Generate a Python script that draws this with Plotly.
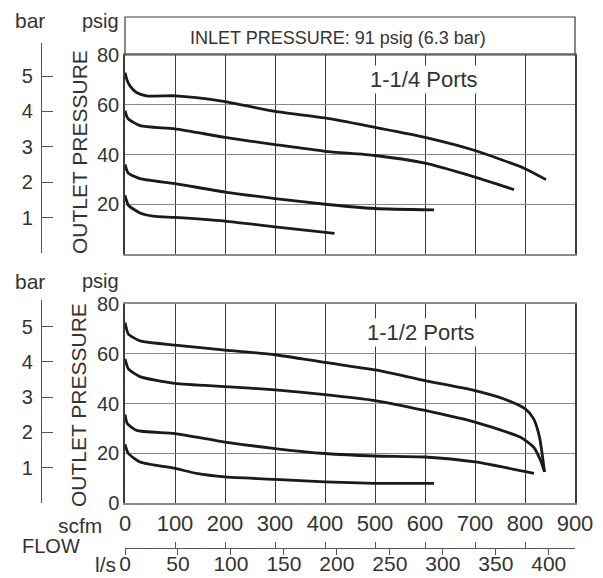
import plotly.graph_objects as go

# ---------------- data (scfm, psig) ----------------
# 1-1/4 Ports (top panel)
t1_x = [0, 4, 10, 23, 43, 100, 143, 200, 300, 400, 500, 600, 700, 800, 842]
t1_y = [72.9, 70.0, 67.6, 64.9, 63.6, 63.6, 62.9, 61.3, 57.3, 54.7, 50.9, 46.9, 41.6, 34.3, 29.9]
t2_x = [0, 3, 6.7, 30, 100, 200, 300, 400, 500, 600, 700, 778]
t2_y = [57.6, 55.6, 54.3, 51.6, 50.3, 46.9, 44.0, 41.3, 39.6, 36.5, 30.9, 25.9]
t3_x = [0, 3, 6.7, 30, 100, 200, 300, 400, 500, 618]
t3_y = [36.0, 34.0, 32.5, 30.3, 28.3, 24.9, 22.3, 20.0, 18.3, 17.7]
t4_x = [0, 3, 6.7, 30, 56.7, 100, 200, 300, 419]
t4_y = [23.6, 21.5, 19.6, 16.5, 15.2, 14.7, 13.2, 10.9, 8.3]

# 1-1/2 Ports (bottom panel)
b1_x = [0, 3, 6.7, 30, 100, 200, 300, 400, 500, 600, 700, 757, 800, 817, 829, 839]
b1_y = [72.5, 70.0, 67.9, 65.2, 63.5, 61.5, 59.6, 56.5, 53.5, 49.2, 45.2, 41.9, 37.9, 33.9, 26.5, 12.5]
b2_x = [0, 3, 6.7, 30, 100, 200, 300, 400, 500, 600, 700, 790, 817, 831, 839]
b2_y = [57.9, 55.8, 53.9, 50.8, 48.1, 46.8, 45.5, 43.6, 41.2, 37.2, 32.5, 26.5, 22.5, 17.2, 12.5]
b3_x = [0, 2, 4.7, 23, 100, 200, 300, 400, 500, 600, 700, 818]
b3_y = [35.6, 33.5, 31.9, 29.2, 27.9, 24.5, 21.9, 19.9, 18.9, 18.5, 16.5, 11.9]
b4_x = [0, 3, 6.7, 30, 100, 143, 200, 300, 400, 500, 618]
b4_y = [23.6, 21.6, 19.9, 16.5, 13.9, 11.9, 10.5, 9.5, 8.5, 7.9, 7.9]

scfm_ticks = [0, 100, 200, 300, 400, 500, 600, 700, 800, 900]
ls_ticks = [0, 50, 100, 150, 200, 250, 300, 350, 400]
psig_ticks_top = [20, 40, 60, 80]
psig_ticks_bot = [0, 20, 40, 60, 80]
bar_ticks = [0, 1, 2, 3, 4, 5]
bar_text = ["", "1", "2", "3", "4", "5"]
SCFM_PER_LS = 2.11888

# the page body adds an 8 px offset; the figure is laid out in window pixels
OFF = 8
W, H = 595, 570
FONT = "Liberation Sans"
TXT = "#333333"

def px(x):
    return (x - OFF) / W

def py(y):
    return (H - (y - OFF)) / H

fig = go.Figure()

line = dict(color="#1a1a1a", width=2.8, shape="spline", smoothing=0.6)
for xs, ys in [(t1_x, t1_y), (t2_x, t2_y), (t3_x, t3_y), (t4_x, t4_y)]:
    fig.add_trace(go.Scatter(x=xs, y=ys, mode="lines", line=line, xaxis="x", yaxis="y",
                             hoverinfo="skip", showlegend=False))
for xs, ys in [(b1_x, b1_y), (b2_x, b2_y), (b3_x, b3_y), (b4_x, b4_y)]:
    fig.add_trace(go.Scatter(x=xs, y=ys, mode="lines", line=line, xaxis="x2", yaxis="y2",
                             hoverinfo="skip", showlegend=False))

# invisible anchor points so the auxiliary scale axes are drawn
inv = dict(mode="markers", marker=dict(opacity=0, size=1), hoverinfo="skip", showlegend=False)
fig.add_trace(go.Scatter(x=[0.5], y=[1], xaxis="x5", yaxis="y3", **inv))
fig.add_trace(go.Scatter(x=[0.5], y=[1], xaxis="x5", yaxis="y4", **inv))
fig.add_trace(go.Scatter(x=[100], y=[0.5], xaxis="x3", yaxis="y5", **inv))
fig.add_trace(go.Scatter(x=[100], y=[0.5], xaxis="x4", yaxis="y6", **inv))

xdom = [px(125), px(575)]
top_dom = [py(254), py(55)]
bot_dom = [py(503), py(304)]
tickfont = dict(family=FONT, size=20, color=TXT)
xtickfont = dict(family=FONT, size=22, color=TXT)
lstickfont = dict(family=FONT, size=21, color=TXT)

common_x = dict(range=[0, 900], domain=xdom, tickvals=scfm_ticks, showgrid=True,
                gridcolor="#3a3a3a", gridwidth=1, showline=True, linecolor="#8a8a8a",
                linewidth=1.5, mirror=True, ticks="", zeroline=False, fixedrange=True,
                automargin=False)
common_y = dict(range=[0, 80], showgrid=True, gridcolor="#888888", gridwidth=1,
                showline=True, linecolor="#3a3a3a", linewidth=1.5, mirror=True, ticks="",
                zeroline=False, tickfont=tickfont, fixedrange=True, automargin=False,
                layer="below traces")
bar_y = dict(side="left", tickvals=bar_ticks, ticktext=bar_text, anchor="x5",
             ticks="inside", ticklen=11, tickcolor="#555", tickwidth=1.2,
             showline=True, linecolor="#555", linewidth=1.2, showgrid=False,
             zeroline=False, tickfont=tickfont, fixedrange=True, automargin=False,
             ticklabelstandoff=4)
hidden = dict(visible=False, fixedrange=True, automargin=False)

fig.update_layout(
    width=W, height=H,
    margin=dict(l=0, r=0, t=0, b=0, autoexpand=False),
    paper_bgcolor="white", plot_bgcolor="rgba(0,0,0,0)",
    font=dict(family=FONT, color=TXT),
    xaxis=dict(common_x, anchor="y", showticklabels=False),
    yaxis=dict(common_y, domain=top_dom, anchor="x", tickvals=psig_ticks_top),
    xaxis2=dict(common_x, anchor="y2", showticklabels=True, tickfont=xtickfont),
    yaxis2=dict(common_y, domain=bot_dom, anchor="x2", tickvals=psig_ticks_bot),
    # bar scales
    yaxis3=dict(bar_y, domain=[py(253), py(43)], range=[0, (253 - 43) / 35.4]),
    yaxis4=dict(bar_y, domain=[py(503), py(300)], range=[0, (503 - 300) / 35.3]),
    xaxis5=dict(hidden, domain=[px(42), px(44)], range=[0, 1], anchor="y3"),
    # l/s flow scale
    yaxis5=dict(hidden, domain=[py(548), py(547)], range=[0, 1], anchor="x3"),
    yaxis6=dict(hidden, domain=[py(548), py(547)], range=[0, 1], anchor="x4"),
    xaxis3=dict(domain=xdom, range=[0, 900 / SCFM_PER_LS], anchor="y5",
                side="bottom", tickvals=ls_ticks, ticks="outside",
                ticklen=6, tickcolor="#555", tickwidth=1.2, showline=True,
                linecolor="#555", linewidth=1.2, showgrid=False, zeroline=False,
                tickfont=lstickfont, fixedrange=True, automargin=False,
                ticklabelstandoff=-9),
    # scfm tick marks on the l/s line
    xaxis4=dict(domain=xdom, range=[0, 900], anchor="y6",
                side="bottom", tickvals=scfm_ticks, ticks="inside",
                ticklen=6, tickcolor="#555", tickwidth=1.2, showline=False,
                showgrid=False, zeroline=False, showticklabels=False, fixedrange=True,
                automargin=False),
)

# title strip above top panel
fig.add_shape(type="rect", xref="paper", yref="paper", x0=px(125), x1=px(575),
              y0=py(55), y1=py(17), line=dict(color="#3a3a3a", width=1.2))

def ann(text, x, y, size=20, angle=0, xanchor="center", bg=None):
    fig.add_annotation(text=text, xref="paper", yref="paper", x=px(x), y=py(y),
                       xanchor=xanchor, yanchor="middle", showarrow=False, textangle=angle,
                       font=dict(family=FONT, size=size, color=TXT),
                       bgcolor=bg, borderpad=1)

ann("INLET PRESSURE: 91 psig (6.3 bar)", 338, 38, size=18)
ann("1-1/4 Ports", 424, 80, size=22, bg="white")
ann("1-1/2 Ports", 421, 332, size=22, bg="white")
for yb in (21, 281):
    ann("bar", 30, yb, size=21)
    ann("psig", 100, yb, size=20)
ann("OUTLET PRESSURE", 79, 152, size=21, angle=-90)
ann("OUTLET PRESSURE", 79, 405, size=21, angle=-90)
ann("scfm", 104, 525, size=21, xanchor="right")
ann("FLOW", 51, 546, size=20)
ann("l/s", 118, 564, size=21, xanchor="right")

fig.write_html("out.html")
